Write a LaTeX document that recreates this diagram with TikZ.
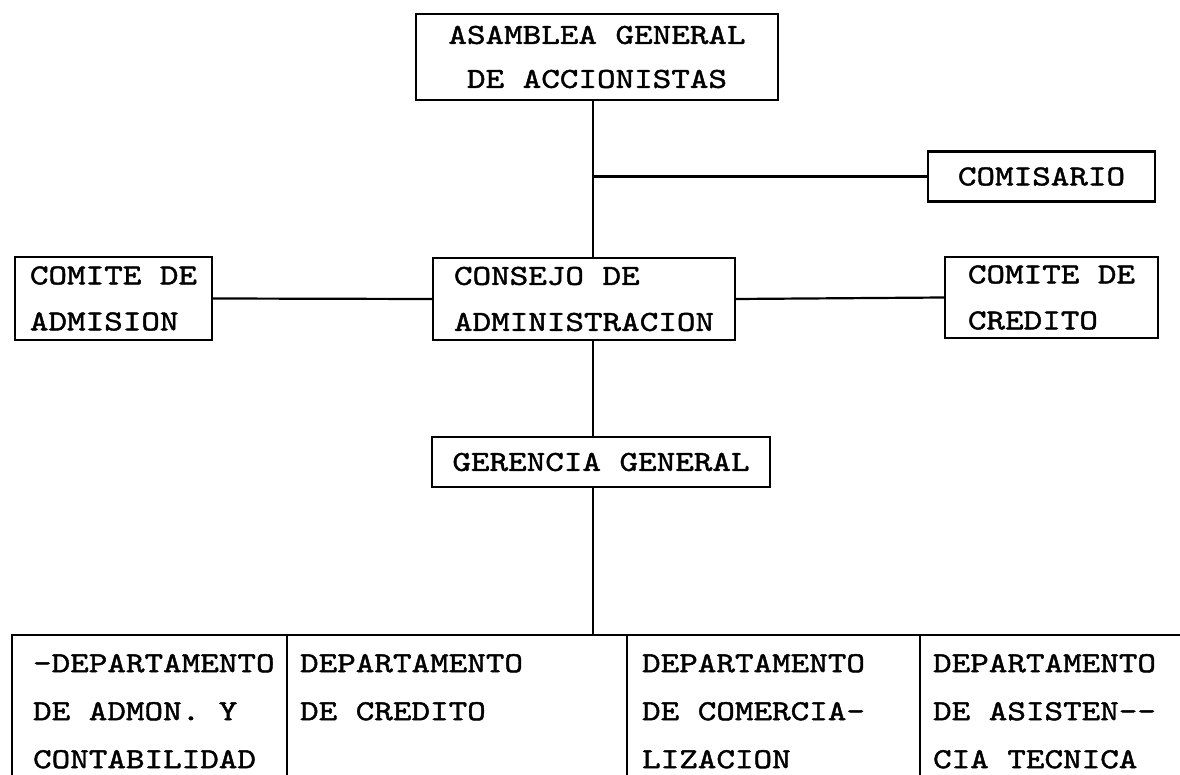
\documentclass[tikz,border=0pt]{standalone}
\usepackage{fontspec}
\newfontfamily\tw{lmmono10-regular}[Extension=.otf,FakeStretch=1.22,FakeBold=1.5,WordSpace={1,0,0}]
\begin{document}
\begin{tikzpicture}[x=1pt,y=-1pt,
  line width=2.2pt,
  txt/.style={font=\tw\fontsize{29}{46}\selectfont},
  box/.style={txt,draw,rectangle,inner sep=0pt,align=left},
  dept/.style={font=\tw\fontsize{29}{48}\selectfont,anchor=north west,inner sep=0pt,align=left}]
\useasboundingbox (0,0) rectangle (1180,775);
% boxes (centre, size)
\node[box,align=center,minimum width=362pt,minimum height=86pt,font=\tw\fontsize{29}{44}\selectfont] (asamblea) at (597,57) {ASAMBLEA GENERAL\\DE ACCIONISTAS};
\node[box,minimum width=227pt,minimum height=50pt] (comisario) at (1041.5,176.5) {COMISARIO};
\node[box,minimum width=197pt,minimum height=83pt] (admision) at (113.5,298.5) {COMITE DE\\ADMISION};
\node[box,minimum width=302pt,minimum height=82pt] (consejo) at (584,299) {CONSEJO DE\\ADMINISTRACION};
\node[box,minimum width=213pt,minimum height=81pt] (credito) at (1051.5,297.5) {COMITE DE\\CREDITO};
\node[box,minimum width=338pt,minimum height=50pt] (gerencia) at (601,462) {GERENCIA GENERAL};
% spine and bus
\coordinate (spine) at (593,0);
\coordinate (busL) at (12,635);
\coordinate (busR) at (1180,635);
\coordinate (c2) at (287,635);
\coordinate (c3) at (627,635);
\coordinate (c4) at (920,635);
\draw (asamblea.south -| spine) -- (consejo.north -| spine);
\draw (comisario.west) -- (comisario.west -| spine);
\draw (admision.east) -- (consejo.west);
\draw (consejo.east) -- (credito.west);
\draw (consejo.south -| spine) -- (gerencia.north -| spine);
\draw (gerencia.south -| spine) -- (busL -| spine);
\draw (12,775) -- (busL) -- (busR);
\draw (c2) -- (287,775);
\draw (c3) -- (627,775);
\draw (c4) -- (920,775);
% departments
\node[dept] (d1) at (32,653) {-DEPARTAMENTO\\DE ADMON. Y\\CONTABILIDAD};
\node[dept] (d2) at (299,653) {DEPARTAMENTO\\DE CREDITO};
\node[dept] (d3) at (641,653) {DEPARTAMENTO\\DE COMERCIA-\\LIZACION};
\node[dept] (d4) at (932,653) {DEPARTAMENTO\\DE ASISTEN--\\CIA TECNICA};
\end{tikzpicture}
\end{document}
